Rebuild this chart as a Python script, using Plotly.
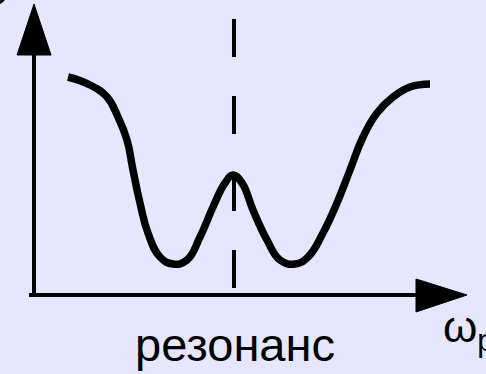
import plotly.graph_objects as go

# Curve (x: frequency axis, y: amplitude), pixel-based units
freq = [68, 90, 107, 118, 127, 133, 140, 148, 160, 173, 187, 200, 213, 225, 233,
        242, 253, 267, 280, 295, 308, 323, 337, 350, 363, 377, 393, 410, 430]
amp_px = [77, 85, 97, 117, 140, 170, 203, 233, 257, 264, 260, 237, 207, 183, 175,
          183, 210, 240, 260, 264, 257, 233, 203, 170, 137, 113, 97, 87, 84]
H = 374
amp = [H - v for v in amp_px]

resonance_x = 234
axis_label_x = "резонанс"
axis_label_w = "ω<sub>р</sub>"

BG = "#E6E6FF"
fig = go.Figure()
fig.add_trace(go.Scatter(x=freq, y=amp, mode="lines",
                         line=dict(color="black", width=7.5, shape="spline", smoothing=1.3),
                         hoverinfo="skip", showlegend=False))

shapes = []
# dashed resonance line
shapes.append(dict(type="line", x0=resonance_x, x1=resonance_x, y0=H - 19, y1=H - 288,
                   line=dict(color="black", width=4, dash="38px,39px")))
# axes
shapes.append(dict(type="line", x0=34, x1=34, y0=H - 50, y1=H - 297,
                   line=dict(color="black", width=4)))
shapes.append(dict(type="line", x0=29, x1=420, y0=H - 295, y1=H - 295,
                   line=dict(color="black", width=4)))
# arrow heads
shapes.append(dict(type="path", path=f"M 34 {H-4} L 17 {H-55} L 51 {H-55} Z",
                   fillcolor="black", line=dict(color="black", width=1)))
shapes.append(dict(type="path", path=f"M 467 {H-295} L 416 {H-279} L 416 {H-312} Z",
                   fillcolor="black", line=dict(color="black", width=1)))
# cut-off glyph at top-left corner
shapes.append(dict(type="circle", x0=-12, x1=5, y0=H + 14, y1=H - 3,
                   line=dict(color="black", width=3)))

fig.update_layout(
    width=486, height=374,
    margin=dict(l=0, r=0, t=0, b=0),
    paper_bgcolor=BG, plot_bgcolor=BG,
    xaxis=dict(range=[0, 486], visible=False, fixedrange=True),
    yaxis=dict(range=[0, H], visible=False, fixedrange=True),
    shapes=shapes,
    annotations=[
        dict(x=235, y=H - 362, xref="x", yref="y", text=axis_label_x, showarrow=False,
             xanchor="center", yanchor="bottom", yshift=-11,
             font=dict(family="Liberation Sans, Arial", size=47, color="black")),
        dict(x=441, y=H - 350, xref="x", yref="y", text=axis_label_w, showarrow=False,
             xanchor="left", yanchor="bottom", yshift=-10,
             font=dict(family="Liberation Sans, Arial", size=44, color="black")),
    ],
)

fig.write_html("out.html", config={"displayModeBar": False},
               post_script="document.body.style.margin='0';document.body.style.overflow='hidden';")
